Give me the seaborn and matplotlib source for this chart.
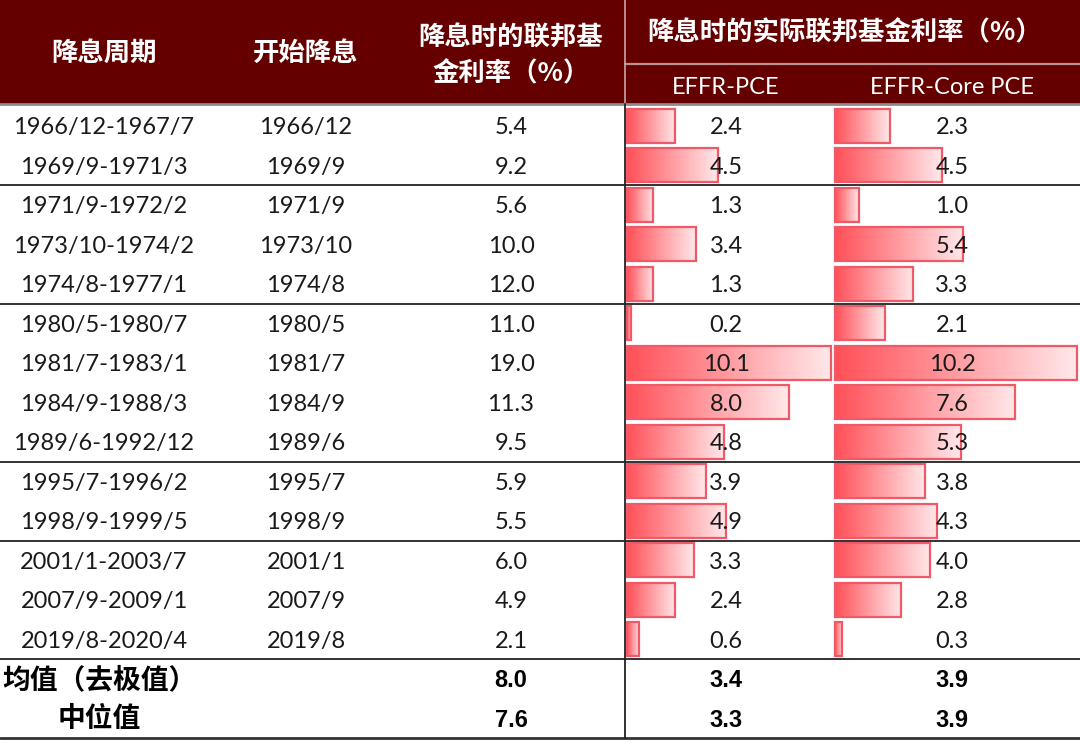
import numpy as np
import pandas as pd
import seaborn as sns
import matplotlib.pyplot as plt
from matplotlib.patches import Rectangle
from matplotlib.colors import LinearSegmentedColormap

# data
periods = ["1966/12-1967/7", "1969/9-1971/3", "1971/9-1972/2", "1973/10-1974/2",
           "1974/8-1977/1", "1980/5-1980/7", "1981/7-1983/1", "1984/9-1988/3",
           "1989/6-1992/12", "1995/7-1996/2", "1998/9-1999/5", "2001/1-2003/7",
           "2007/9-2009/1", "2019/8-2020/4"]
start = ["1966/12", "1969/9", "1971/9", "1973/10", "1974/8", "1980/5", "1981/7",
         "1984/9", "1989/6", "1995/7", "1998/9", "2001/1", "2007/9", "2019/8"]
rate = [5.4, 9.2, 5.6, 10.0, 12.0, 11.0, 19.0, 11.3, 9.5, 5.9, 5.5, 6.0, 4.9, 2.1]
pce = [2.4, 4.5, 1.3, 3.4, 1.3, 0.2, 10.1, 8.0, 4.8, 3.9, 4.9, 3.3, 2.4, 0.6]
core = [2.3, 4.5, 1.0, 5.4, 3.3, 2.1, 10.2, 7.6, 5.3, 3.8, 4.3, 4.0, 2.8, 0.3]
summary_labels = ["均值（去极值）", "中位值"]
summary_rate = [8.0, 7.6]
summary_pce = [3.4, 3.3]
summary_core = [3.9, 3.9]
group_ends = [2, 5, 9, 11, 14]

header_cols = ["降息周期", "开始降息", "降息时的联邦基\n金利率（%）"]
header_group = "降息时的实际联邦基金利率（%）"
header_sub = ["EFFR-PCE", "EFFR-Core PCE"]

df = pd.DataFrame({"period": periods, "pce": pce, "core": core})

sns.set_theme(style="white")
plt.rcParams["font.family"] = ["Lato", "Noto Sans CJK SC", "DejaVu Sans"]

W, H = 1080, 744
dark_red = "#650000"
row_h = 39.5
top = 106
col_x = [104, 306, 511, 726, 952]


def rect(x0, y0, x1, y1):
    return [x0 / W, 1 - y1 / H, (x1 - x0) / W, (y1 - y0) / H]


fig = plt.figure(figsize=(W / 100, H / 100), dpi=100)
fig.patch.set_facecolor("white")

# data bars, one axes per column
cmap = LinearSegmentedColormap.from_list("bar", ["#FF5058", "#FFE8EA"])
grad = np.linspace(0, 1, 256).reshape(1, -1)
bottom = top + row_h * len(periods)
for col, (x0, x1) in zip(["pce", "core"], [(627, 831), (835, 1077)]):
    bax = fig.add_axes(rect(x0, top, x1, bottom), zorder=1)
    sns.barplot(data=df, x=col, y="period", orient="h", ax=bax, width=0.86,
                color="#FF5560", edgecolor="#F05A68", linewidth=1.6)
    for bar in bax.patches:
        bar.set_facecolor("none")
        bar.set_zorder(3)
        bar.set_clip_on(False)
        bx, by = bar.get_x(), bar.get_y()
        bw, bh = bar.get_width(), bar.get_height()
        im = bax.imshow(grad, extent=[bx, bx + bw, by + bh, by], cmap=cmap,
                        aspect="auto", zorder=2)
        im.set_clip_path(bar)
    bax.set_xlim(0, df[col].max())
    bax.set_ylim(len(periods) - 0.5, -0.5)
    bax.axis("off")

# table overlay
ax = fig.add_axes([0, 0, 1, 1], zorder=3)
ax.patch.set_alpha(0)
ax.set_xlim(0, W)
ax.set_ylim(H, 0)
ax.axis("off")

ax.add_patch(Rectangle((0, 0), W, 103, color=dark_red, zorder=0))
ax.plot([625, W], [64, 64], color="#B89090", lw=1.6)
ax.plot([625, 625], [0, 103], color="#C8A8A8", lw=1.2)
ax.plot([0, W], [103.5, 103.5], color="#8C8C8C", lw=2)

hkw = dict(color="white", fontsize=19, fontweight="bold", ha="center", va="center",
           family=["Noto Sans CJK SC"])
ax.text(col_x[0], 53, header_cols[0], **hkw)
ax.text(col_x[1], 53, header_cols[1], **hkw)
ax.text(col_x[2], 56, header_cols[2], linespacing=1.4, **hkw)
ax.text(845, 33, header_group, **hkw)
for x, s in zip(col_x[3:], header_sub):
    ax.text(x, 87, s, color="white", fontsize=17, ha="center", va="center")

tkw = dict(color="#1A1A1A", fontsize=17, ha="center", va="center")
for i in range(len(periods)):
    y = top + row_h * (i + 0.5) + 2
    ax.text(col_x[0], y, periods[i], **tkw)
    ax.text(col_x[1], y, start[i], **tkw)
    ax.text(col_x[2], y, f"{rate[i]:.1f}", **tkw)
    ax.text(col_x[3], y, f"{pce[i]:.1f}", **tkw)
    ax.text(col_x[4], y, f"{core[i]:.1f}", **tkw)

bkw = dict(color="black", fontweight="bold", ha="center", va="center")
for j in range(len(summary_labels)):
    y = top + row_h * (len(periods) + j + 0.5) + 1
    ax.text(99, y, summary_labels[j], fontsize=20, family=["Noto Sans CJK SC"], **bkw)
    for x, v in zip(col_x[2:], [summary_rate[j], summary_pce[j], summary_core[j]]):
        ax.text(x, y + 1, f"{v:.1f}", fontsize=17,
                family=["Liberation Sans Narrow", "Liberation Sans"], **bkw)

for g in group_ends:
    ax.plot([0, W], [top + row_h * g] * 2, color="#222222", lw=1.3)
end_y = top + row_h * (len(periods) + len(summary_labels))
ax.plot([0, W], [end_y, end_y], color="#333333", lw=2)
ax.plot([625, 625], [104, end_y], color="#222222", lw=1.3)

plt.savefig("out.png", dpi=100)
plt.close()
